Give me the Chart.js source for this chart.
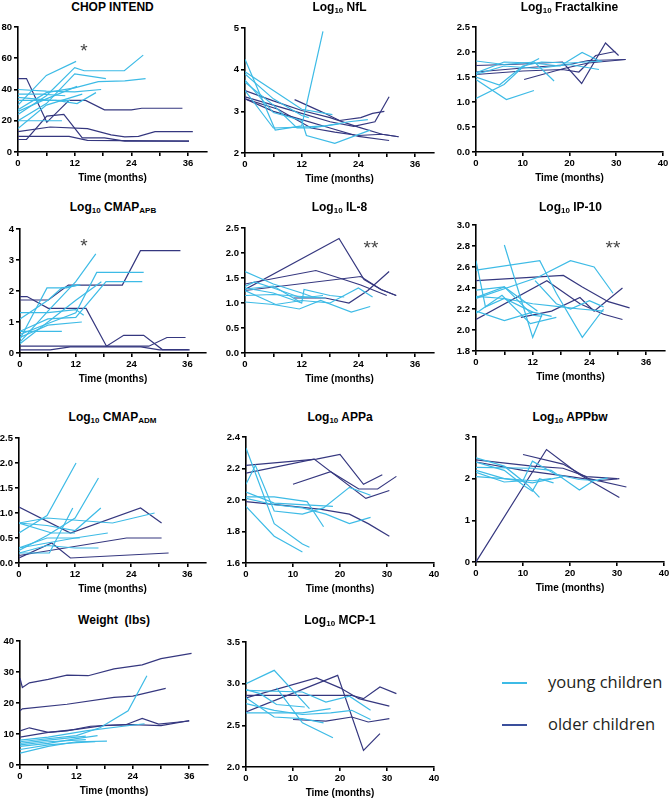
<!DOCTYPE html>
<html>
<head>
<meta charset="utf-8">
<script src="https://cdn.jsdelivr.net/npm/chart.js@4.4.1/dist/chart.umd.min.js"></script>
<style>
  body { margin: 0; background: #fff; }
  #wrap { position: relative; width: 669px; height: 800px; overflow: hidden; font-family: "Liberation Sans", Arial, sans-serif; }
  #wrap canvas { position: absolute; }
  .ttl { position: absolute; text-align: center; font-weight: bold; font-size: 12px; line-height: 14px; color: #000; white-space: nowrap; }
  .ttl sub { font-size: 8px; vertical-align: -2px; line-height: 0; }
  .star { position: absolute; width: 30px; text-align: center; font-size: 19px; line-height: 19px; color: #444; }
  .legLine { position: absolute; width: 25px; height: 2px; }
  .legText { position: absolute; font-family: "Open Sans", sans-serif; font-size: 16.5px; line-height: 22px; color: #231f20; }
</style>
</head>
<body>
<div id="wrap"></div>
<script>
// ---- data: each subject is a list of [months, value] ----
const chopYoung = [
  [[0,30],[6,49],[12.3,58]],
  [[0,24],[6,36],[12,54],[14,52],[22.5,52],[26.5,62]],
  [[0,20],[6,31],[12,50],[18.6,47]],
  [[0,27],[6,38],[12,41],[17,45],[22.6,45.5],[27,47]],
  [[0,40],[6,39],[12,38.5],[17.6,40]],
  [[0,37],[5,37],[10,36]],
  [[0,33],[8,33],[12.5,31],[16.5,38]],
  [[0,20],[9.3,20]],
  [[0,15],[6,30],[13.6,37]],
  [[0,26],[6,34],[12.5,42]],
  [[0,35],[7,33],[11,33]]
];
const chopOlder = [
  [[0,47],[1.8,47],[6.1,19],[10.8,33],[14.3,33],[18.3,27],[24,27],[26.2,28],[34.8,28]],
  [[0,8],[1.8,8],[6.1,23],[9.7,24],[13.6,9],[18.3,9],[22.6,7],[36.2,7]],
  [[0,13],[6.8,16],[14.7,15],[19.7,11],[22.6,9.7],[25.5,10],[29,13],[37,13]],
  [[0,10],[10.8,10],[14.7,7.5],[36.2,7]]
];

const nflYoung = [
  [[0,4.25],[6.4,2.55],[12,2.65],[16.5,4.92]],
  [[0,3.95],[6,3.5],[12,3.05],[18.5,2.92]],
  [[0,3.75],[6,2.97],[12,2.78],[13,2.42],[19,2.23],[26.5,2.55]],
  [[0,3.9],[6,3.3],[12,2.9],[13.5,2.85]],
  [[0,3.5],[6,2.6],[12,2.62],[17,2.65],[22,2.75],[26,2.8]],
  [[0,3.7],[6,3.15],[11,2.6],[14,2.6],[20,2.7]]
];
const nflOlder = [
  [[0,3.3],[6,3.0],[12,2.8],[18,2.6],[24,2.4],[30.5,2.3]],
  [[0,3.35],[6,3.15],[12,2.95],[18,2.75],[23,2.64],[27.5,2.75],[30.5,3.35]],
  [[0,3.5],[6,3.25],[12,3.02],[18,2.85],[24,2.62],[29,2.45],[32.5,2.39]],
  [[10.5,3.28],[16,3.0],[20,2.78],[24.5,2.85],[27,2.95],[29.5,3.0]],
  [[0,3.3],[7,3.05],[14,2.6],[19,2.5],[24,2.42],[29,2.45],[32.5,2.39]]
];

const fktYoung = [
  [[0,1.07],[6,1.35],[10,1.7],[13.5,1.87]],
  [[0,1.45],[6.5,1.05],[12.4,1.23]],
  [[0,1.82],[6,1.75],[12.5,1.8],[16.7,1.42]],
  [[0,1.58],[6,1.8],[12,1.78],[18,1.72],[22.7,1.99],[26.6,1.81]],
  [[0,1.55],[6,1.72],[13,1.67],[20,1.75],[26.3,1.65]],
  [[0,1.5],[5,1.34],[10,1.72],[14,1.8],[20,1.78],[27,1.82]]
];
const fktOlder = [
  [[0,1.73],[10,1.76],[18.5,1.8],[22.6,1.37],[27.7,2.18],[30.5,1.93]],
  [[0,1.55],[10,1.62],[18.5,1.65],[22,1.6],[25.6,1.93],[29.8,2.01]],
  [[10.3,1.45],[18.8,1.67],[24,1.78],[32,1.85]],
  [[0,1.6],[10,1.68],[20,1.75],[24,1.83],[32,1.85]]
];

const apbYoung = [
  [[0,0.35],[6,1.35],[12,2.3],[16.3,3.2]],
  [[0,0.45],[5.8,2.1],[10,2.1],[12.5,2.2]],
  [[0,0.6],[6,0.95],[12,1.3],[16.5,2.6],[26.6,2.6]],
  [[0,0.7],[6,1.1],[12,1.15],[18.5,2.3],[26.3,2.3]],
  [[0,1.3],[6,1.3],[12,1.4],[13.7,1.22]],
  [[0,1.1],[6,1.7],[9,2.1],[13,2.2]],
  [[0,0.7],[9,0.7]],
  [[0,0.5],[6,0.9],[13.3,1.0]],
  [[0,0.3],[12,1.7],[17.5,2.3]]
];
const apbOlder = [
  [[0,1.82],[1.5,1.82],[6.1,1.44],[14.2,1.44],[18.6,0.22],[22.3,0.57],[26.6,0.57],[30.6,0.11],[36.3,0.11]],
  [[0,1.71],[6.1,1.71],[10.4,2.19],[18,2.19],[22,2.19],[25.9,3.3],[34.5,3.3]],
  [[0,0.22],[13.7,0.22],[27.7,0.22],[31.6,0.5],[35.6,0.5]],
  [[0,0.1],[6.5,0.1],[10.8,0.2],[26,0.2],[30,0.1],[36.5,0.1]]
];

const il8Young = [
  [[0,1.63],[6,1.38],[12,1.2],[15,1.1]],
  [[0,1.33],[2,1.42],[6,1.3],[12,1.1],[16.5,1.15]],
  [[0,1.15],[6,1.17],[12,1.13],[17,1.1]],
  [[0,1.02],[6,0.97],[11.5,0.88],[16,1.05],[22.5,0.82],[26.5,0.93]],
  [[0,1.25],[6.5,0.97],[12,1.05],[18,1.0],[24,1.3],[27,1.12]],
  [[0,1.3],[6,1.2],[12,1.0],[12.5,1.27],[18,1.15],[21,1.12]],
  [[0,1.28],[6,1.34],[12,1.0]]
];
const il8Older = [
  [[0,1.27],[19.9,2.29],[25.2,1.47],[28.8,1.27],[32,1.15]],
  [[0,1.38],[15,1.65],[20.6,1.48],[24.5,1.36],[30,1.15]],
  [[0,1.25],[24.5,1.53],[28.8,1.27],[32,1.15]],
  [[10.3,1.1],[17,1.1],[22,1.0],[26,1.25],[30.5,1.63]]
];

const ip10Young = [
  [[0,2.66],[2,2.22],[6,2.3],[12,2.17]],
  [[0,2.57],[13.5,2.66],[17,2.35],[22.5,1.93],[27,2.2]],
  [[6,2.81],[12,1.93],[14,2.15]],
  [[0,2.3],[13,2.5],[20,2.66],[25,2.6],[29,2.35]],
  [[0,2.38],[6,2.41],[12,2.14],[14,2.13]],
  [[0,2.18],[6,2.09],[12,2.17],[16,2.13]],
  [[0,2.32],[6,2.3],[12,2.25],[18,2.22],[22,2.2],[27,2.18]],
  [[0,2.16],[5.5,2.33],[11.5,2.06],[17,2.12]],
  [[12.5,2.47],[17,2.25],[20,2.2],[24,2.28],[27,2.22]],
  [[0,2.31],[6,2.41],[13,2.18]]
];
const ip10Older = [
  [[0,2.47],[18.5,2.52],[22.5,2.41],[28,2.27],[32.5,2.21]],
  [[0,2.1],[15,2.47],[22,2.25],[27,2.15],[31,2.1]],
  [[9.5,2.12],[16,2.18],[22,2.31],[25,2.18],[31,2.4]]
];

const admYoung = [
  [[0,0.6],[6,0.95],[12.2,2.0]],
  [[0,0.25],[6,0.55],[12,0.9],[17,1.7]],
  [[0,0.8],[6,0.75],[12,0.65],[17.5,1.1]],
  [[0,0.8],[6,0.9],[20,0.8],[29,1.0]],
  [[0,0.3],[6,0.4],[12,0.5],[19,0.6]],
  [[0,0.2],[6.5,0.2],[11.5,1.1]],
  [[0,0.8],[7,0.6],[12,0.6]],
  [[0,0.2],[6,0.35],[12,0.3],[17,0.3]],
  [[0,0.3],[6,0.5],[13,0.5]]
];
const admOlder = [
  [[0,1.12],[11,0.6],[26,1.1],[30.5,0.8]],
  [[0,0.15],[23,0.5],[30.5,0.5]],
  [[0,0.1],[7,0.4],[11,0.1],[32,0.2]]
];

const appaYoung = [
  [[0,2.33],[6,1.85],[12,1.72],[13.5,1.7]],
  [[0,1.96],[6,1.77],[12,1.67]],
  [[0,2.1],[2,2.22],[6,1.93],[12,1.91],[16.5,1.95],[22,2.08],[26.5,2.03]],
  [[0,2.02],[6,2.02],[13,1.99],[16.5,1.83]],
  [[0,2.05],[6,1.98],[18.5,1.96]],
  [[0,2.01],[6,1.97],[12,1.95],[17,1.91],[22,1.85],[26.5,1.89]]
];
const appaOlder = [
  [[0,2.22],[15,2.26],[20,2.29],[25,2.1],[29,2.16]],
  [[0,2.17],[14.5,2.26],[25.5,2.01],[30.5,2.06]],
  [[10,2.1],[18,2.18],[24,2.07],[28,2.07],[32,2.15]],
  [[0,1.99],[10,1.96],[16,1.94],[22,1.91],[26,1.85],[30.5,1.77]]
];

const appbwYoung = [
  [[0,2.5],[6,2.3],[11,1.85],[13.5,1.55]],
  [[0,2.4],[6,2.2],[10,1.85],[12,1.7],[13.5,2.0],[16.5,1.9]],
  [[0,2.2],[6,2.0],[12,1.9],[18.5,2.05]],
  [[0,2.05],[6,2.0],[12,1.95],[16,2.0]],
  [[0,2.27],[12,2.25],[16,2.2],[22,1.73],[25,1.95],[28,2.02]],
  [[0,2.15],[6,1.92],[10,1.95],[12,2.42],[17,2.1],[22,1.98],[26,1.95]]
];
const appbwOlder = [
  [[0,0],[15,2.7],[22,2.1],[30.5,1.55]],
  [[10,2.58],[18.5,2.35],[24,2.0],[32,1.8]],
  [[0,2.45],[12,2.3],[18.5,2.25],[23.5,2.05],[30,2.0]],
  [[0,2.4],[10,2.2],[20,2.05],[26,1.95],[30.5,2.0]]
];

const weightYoung = [
  [[0,7.5],[12,9.5],[17,12],[23,17.5],[27,28.8]],
  [[0,3.8],[6,6],[12,7.5],[18.5,7.7]],
  [[0,6],[6,7],[12,8.5],[16.5,9.5]],
  [[0,7],[6,8],[12,9],[14,9.3]],
  [[0,8],[6,9],[14,11],[22,12.5],[26.5,13.3]],
  [[0,6.5],[6,7.5],[14,8.2]],
  [[0,5],[6,6.5],[12,7.2],[16,7.5]]
];
const weightOlder = [
  [[0,28],[0.5,25],[2,26.5],[6,27.6],[10,29],[14.5,28.8],[20,31],[26,32.3],[30,34.3],[36.5,36]],
  [[0,17.5],[0.5,18.1],[10,19.6],[20,21.8],[24,22.2],[31,24.7]],
  [[0,11],[2,12],[6,10.5],[10,11],[15,12.5],[22.5,13],[26,15],[29.5,13.2],[36,14.2]],
  [[0,9],[6,10.5],[12,11.5],[18,12.8],[24,13],[30,12.7],[36,14.3]]
];

const mcpYoung = [
  [[0,3.0],[6,3.16],[13.5,2.7]],
  [[0,2.93],[3,2.88],[6.5,2.75],[12.5,2.72]],
  [[0,2.83],[6,2.6],[12,2.58],[16.5,2.53]],
  [[0,2.76],[6,2.68],[12,2.63],[18,2.65],[22.5,2.68],[26.5,2.57]],
  [[6.5,2.95],[12,2.53],[18.5,2.35]],
  [[0,2.92],[12,2.9],[17,2.78],[22,2.85],[26.5,2.68]],
  [[0,2.65],[12,2.65],[18,2.7]]
];
const mcpOlder = [
  [[0,2.86],[22.5,2.86],[25,2.82],[28.5,2.96],[32,2.88]],
  [[0,2.83],[15,3.07],[20,2.95],[24,2.82],[30.5,2.73]],
  [[0,2.66],[19.5,3.1],[25,2.2],[28.5,2.4]],
  [[10,2.57],[17,2.55],[22.5,2.6],[26,2.54],[30.5,2.58]]
];

const youngColor = "#3dbbe6";
const olderColor = "#35377f";

// ---- panel layout (pixel positions of each plot area) ----
const panels = [
  { title: "CHOP INTEND", L: 18, T: 27, R: 207, B: 152, yMin: 0, yMax: 80, yStep: 20, dec: 0, xStep: 6, young: chopYoung, older: chopOlder, tY: 7, star: "*", sx: 84, sy: 46 },
  { title: "Log<sub>10</sub> NfL", L: 245, T: 28, R: 434, B: 153, yMin: 2, yMax: 5, yStep: 1, dec: 0, xStep: 6, young: nflYoung, older: nflOlder, tY: 7 },
  { title: "Log<sub>10</sub> Fractalkine", L: 476, T: 27, R: 663, B: 152, yMin: 0, yMax: 2.5, yStep: 0.5, dec: 1, xStep: 10, young: fktYoung, older: fktOlder, tY: 7 },
  { title: "Log<sub>10</sub> CMAP<sub>APB</sub>", L: 20, T: 229, R: 206, B: 353, yMin: 0, yMax: 4, yStep: 1, dec: 0, xStep: 6, young: apbYoung, older: apbOlder, tY: 207, star: "*", sx: 84, sy: 241 },
  { title: "Log<sub>10</sub> IL-8", L: 245, T: 228, R: 434, B: 353, yMin: 0, yMax: 2.5, yStep: 0.5, dec: 1, xStep: 6, young: il8Young, older: il8Older, tY: 207, star: "**", sx: 371, sy: 243 },
  { title: "Log<sub>10</sub> IP-10", L: 476, T: 225, R: 665, B: 351, yMin: 1.8, yMax: 3.0, yStep: 0.2, dec: 1, xStep: 6, young: ip10Young, older: ip10Older, tY: 207, star: "**", sx: 613, sy: 243 },
  { title: "Log<sub>10</sub> CMAP<sub>ADM</sub>", L: 19, T: 438, R: 206, B: 563, yMin: 0, yMax: 2.5, yStep: 0.5, dec: 1, xStep: 6, young: admYoung, older: admOlder, tY: 417 },
  { title: "Log<sub>10</sub> APPa", L: 246, T: 437, R: 434, B: 563, yMin: 1.6, yMax: 2.4, yStep: 0.2, dec: 1, xStep: 10, young: appaYoung, older: appaOlder, tY: 417 },
  { title: "Log<sub>10</sub> APPbw", L: 476, T: 437, R: 664, B: 562, yMin: 0, yMax: 3, yStep: 1, dec: 0, xStep: 10, young: appbwYoung, older: appbwOlder, tY: 417 },
  { title: "Weight&nbsp; (lbs)", L: 20, T: 641, R: 208, B: 765, yMin: 0, yMax: 40, yStep: 10, dec: 0, xStep: 6, young: weightYoung, older: weightOlder, tY: 620 },
  { title: "Log<sub>10</sub> MCP-1", L: 246, T: 642, R: 434, B: 767, yMin: 2.0, yMax: 3.5, yStep: 0.5, dec: 1, xStep: 10, young: mcpYoung, older: mcpOlder, tY: 620 }
];

const wrap = document.getElementById("wrap");
const tickFont = { family: "'Liberation Sans', Arial, sans-serif", size: 9.5, weight: "bold" };

function lineSet(subject, color) {
  return {
    data: subject.map(function (d) { return { x: d[0], y: d[1] }; }),
    showLine: true,
    borderColor: color,
    borderWidth: 1.2,
    pointRadius: 0,
    pointHoverRadius: 0,
    fill: false,
    tension: 0
  };
}

panels.forEach(function (p) {
  const cv = document.createElement("canvas");
  cv.width = p.R - p.L + 40;
  cv.height = p.B - p.T + 42;
  cv.style.left = (p.L - 30) + "px";
  cv.style.top = (p.T - 8) + "px";
  wrap.appendChild(cv);

  const t = document.createElement("div");
  t.className = "ttl";
  t.style.left = (p.L - 20) + "px";
  t.style.width = (p.R - p.L + 40) + "px";
  t.style.top = (p.tY - 7) + "px";
  t.innerHTML = p.title;
  wrap.appendChild(t);

  if (p.star) {
    const s = document.createElement("div");
    s.className = "star";
    s.style.left = (p.sx - 15) + "px";
    s.style.top = (p.sy - 5) + "px";
    s.textContent = p.star;
    wrap.appendChild(s);
  }

  const datasets = [];
  p.young.forEach(function (s) { datasets.push(lineSet(s, youngColor)); });
  p.older.forEach(function (s) { datasets.push(lineSet(s, olderColor)); });

  const axisGrid = { drawOnChartArea: false, drawTicks: true, tickLength: 4, color: "#000", lineWidth: 1.6 };
  const axisBorder = { display: true, color: "#000", width: 1.6 };

  new Chart(cv.getContext("2d"), {
    type: "scatter",
    data: { datasets: datasets },
    options: {
      responsive: false,
      animation: false,
      events: [],
      layout: { padding: { top: 8, right: 10, left: 0, bottom: 0 } },
      plugins: { legend: { display: false }, tooltip: { enabled: false } },
      scales: {
        x: {
          type: "linear",
          min: 0,
          max: 40,
          afterFit: function (scale) { scale.height = 34; },
          grid: axisGrid,
          border: axisBorder,
          ticks: {
            stepSize: p.xStep,
            includeBounds: false,
            autoSkip: false,
            maxRotation: 0,
            padding: 2,
            color: "#000",
            font: tickFont,
            callback: function (v) { return (p.xStep === 6 && v % 12 !== 0) ? "" : v; }
          },
          title: {
            display: true,
            text: "Time (months)",
            color: "#000",
            padding: { top: 0, bottom: 2 },
            font: { family: "'Liberation Sans', Arial, sans-serif", size: 10, weight: "bold" }
          }
        },
        y: {
          min: p.yMin,
          max: p.yMax,
          afterFit: function (scale) { scale.width = 30; },
          grid: axisGrid,
          border: axisBorder,
          ticks: {
            stepSize: p.yStep,
            padding: 2,
            color: "#000",
            font: tickFont,
            callback: function (v) { return Number(v).toFixed(p.dec); }
          }
        }
      }
    }
  });
});

// legend
[["young children", youngColor, 683], ["older children", "#3a4f9c", 725]].forEach(function (e) {
  const ln = document.createElement("div");
  ln.className = "legLine";
  ln.style.left = "502px";
  ln.style.top = (e[2] - 1) + "px";
  ln.style.background = e[1];
  wrap.appendChild(ln);
  const tx = document.createElement("div");
  tx.className = "legText";
  tx.style.left = "548px";
  tx.style.top = (e[2] - 12) + "px";
  tx.textContent = e[0];
  wrap.appendChild(tx);
});
</script>
</body>
</html>
